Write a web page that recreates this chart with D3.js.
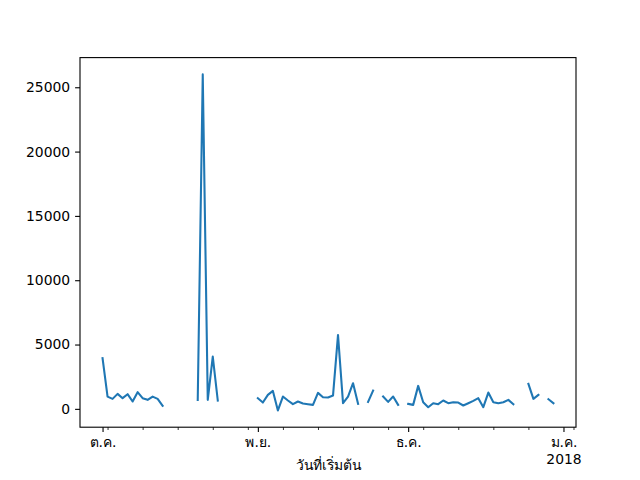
<!DOCTYPE html>
<html>
<head>
<meta charset="utf-8">
<script src="https://cdn.jsdelivr.net/npm/d3@7"></script>
<style>
  body { margin: 0; background: #fff; }
  svg { display: block; }
  text { font-family: "DejaVu Sans", "Noto Sans", sans-serif; font-size: 13.9px; fill: #000; }
</style>
</head>
<body>
<svg id="chart" width="640" height="480"></svg>
<script>
// ---- data ----
const startDate = "2017-10-01";
const values = [
  // Oct 1-13
  3950, 955, 776, 1165, 830, 1140, 570, 1295, 830, 700, 955, 776, 233,
  // Oct 14-19
  null, null, null, null, null, null,
  // Oct 20-24
  700, 26000, 700, 4060, 650,
  // Oct 25-31
  null, null, null, null, null, null, null,
  // Nov 1-21
  828, 492, 1087, 1397, -120, 958, 647, 362, 569, 414, 362, 311, 1242, 906, 880, 1035, 5745, 440, 958, 1992, 388,
  // Nov 22
  null,
  // Nov 23-24
  543, 1423,
  // Nov 25
  null,
  // Nov 26-29
  958, 540, 958, 310,
  // Nov 30
  null,
  // Dec 1-22
  388, 310, 1786, 518, 129, 440, 362, 647, 440, 518, 492, 260, 440, 621, 828, 129, 1268, 518, 440, 518, 699, 362,
  // Dec 23-24
  null, null,
  // Dec 25-27
  1941, 776, 1087,
  // Dec 28
  null,
  // Dec 29-30
  751, 440
];
const yTicks = [0, 5000, 10000, 15000, 20000, 25000];
const monthTicks = ["2017-10-01", "2017-11-01", "2017-12-01", "2018-01-01"];
const monthLabels = [["ต.ค."], ["พ.ย."], ["ธ.ค."], ["ม.ค.", "2018"]];
const minorTicks = ["2017-10-02", "2017-10-09", "2017-10-16", "2017-10-23", "2017-10-30",
  "2017-11-06", "2017-11-13", "2017-11-20", "2017-11-27",
  "2017-12-04", "2017-12-11", "2017-12-18", "2017-12-25", "2018-01-03"];
const xLabel = "วันที่เริ่มต้น";

// ---- build ----
const parse = d3.timeParse("%Y-%m-%d");
const t0 = parse(startDate);
const data = values.map((v, i) => ({ date: d3.timeDay.offset(t0, i), v }));

const L = 80, R = 576, T = 57.6, B = 427.2;
const svg = d3.select("#chart");

const xExt = d3.extent(data, d => d.date);
const xSpan = xExt[1] - xExt[0];
const x = d3.scaleTime()
  .domain([new Date(+xExt[0] - 0.05 * xSpan), new Date(+xExt[1] + 0.05 * xSpan)])
  .range([L, R]);

const defined = data.filter(d => d.v != null);
const yMin = d3.min(defined, d => d.v), yMax = d3.max(defined, d => d.v);
const ySpan = yMax - yMin;
const y = d3.scaleLinear()
  .domain([yMin - 0.05 * ySpan, yMax + 0.05 * ySpan])
  .range([B, T]);

// line
const line = d3.line()
  .defined(d => d.v != null)
  .x(d => x(d.date))
  .y(d => y(d.v));

svg.append("path")
  .datum(data)
  .attr("d", line)
  .attr("fill", "none")
  .attr("stroke", "#1f77b4")
  .attr("stroke-width", 2.08)
  .attr("stroke-linejoin", "round")
  .attr("stroke-linecap", "square");

// frame
svg.append("rect")
  .attr("x", L).attr("y", T)
  .attr("width", R - L).attr("height", B - T)
  .attr("fill", "none").attr("stroke", "#000").attr("stroke-width", 1.1);

// y axis
const yAxis = d3.axisLeft(y).tickValues(yTicks).tickSize(4.9).tickPadding(4.9).tickFormat(d3.format("d"));
const gy = svg.append("g").attr("transform", `translate(${L},0)`).call(yAxis);
gy.select(".domain").remove();
gy.selectAll(".tick line").attr("stroke", "#000").attr("stroke-width", 1.1);
gy.selectAll(".tick text").attr("font-size", "13.9px").attr("font-family", "DejaVu Sans");

// x axis minor
const xMinor = d3.axisBottom(x).tickValues(minorTicks.map(parse)).tickSize(2.8).tickFormat("");
const gxm = svg.append("g").attr("transform", `translate(0,${B})`).call(xMinor);
gxm.select(".domain").remove();
gxm.selectAll(".tick line").attr("stroke", "#000").attr("stroke-width", 0.8);

// x axis major
const majorDates = monthTicks.map(parse);
const xMajor = d3.axisBottom(x).tickValues(majorDates).tickSize(4.9).tickFormat("");
const gx = svg.append("g").attr("transform", `translate(0,${B})`).call(xMajor);
gx.select(".domain").remove();
gx.selectAll(".tick line").attr("stroke", "#000").attr("stroke-width", 1.1);
gx.selectAll(".tick").each(function(d, i) {
  const t = d3.select(this).append("text")
    .attr("text-anchor", "middle")
    .attr("y", 20);
  monthLabels[i].forEach((s, k) => {
    t.append("tspan").attr("x", 0).attr("dy", k === 0 ? 0 : 16.7).text(s);
  });
});

// x label
svg.append("text")
  .attr("x", (L + R) / 2)
  .attr("y", 470)
  .attr("text-anchor", "middle")
  .text(xLabel);
</script>
</body>
</html>
